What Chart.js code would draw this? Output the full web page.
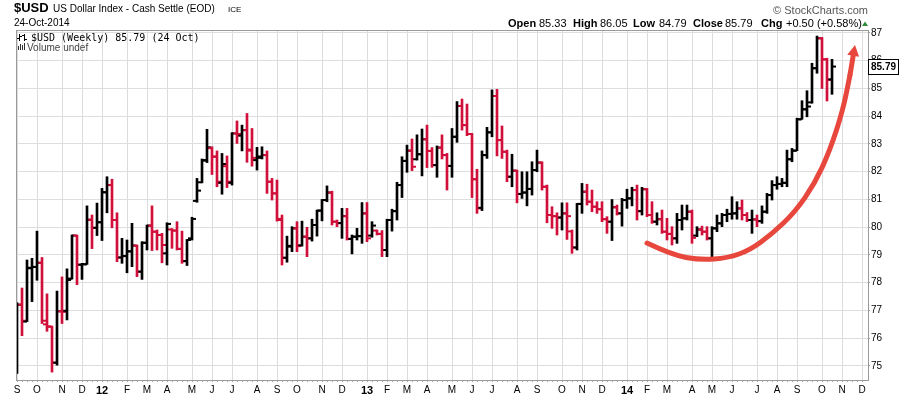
<!DOCTYPE html>
<html>
<head>
<meta charset="utf-8">
<title>$USD weekly</title>
<script src="https://cdn.jsdelivr.net/npm/chart.js@4.4.1/dist/chart.umd.min.js"></script>
<style>
  html, body { margin: 0; padding: 0; background: #fff; }
  #grafico { display: block; }
</style>
</head>
<body>
<canvas id="grafico" width="900" height="396"></canvas>
<script>
/* ── DATOS: barras semanales OHLC del $USD (sep-2011 a oct-2014) ──
   índice = número de semana, 0 = primera semana de septiembre 2011 */
var opens = [
  75.0, 77.21, 76.6, 78.52, 78.57, 78.72, 76.5, 76.41, 75.12, 76.97,
  76.99, 78.15, 79.7, 78.65, 78.66, 80.27, 79.98, 80.18, 81.26, 81.52,
  80.26, 78.91, 78.96, 79.13, 79.34, 78.4, 79.44, 80.06, 79.84, 79.72,
  79.06, 79.92, 79.88, 79.22, 78.78, 79.6, 80.95, 81.62, 82.4, 82.85,
  82.55, 81.6, 82.2, 81.6, 83.38, 83.3, 83.5, 82.8, 82.42, 82.5,
  82.6, 81.64, 81.22, 80.3, 78.9, 79.3, 79.96, 79.35, 79.66, 79.6,
  80.08, 80.6, 80.98, 81.25, 80.2, 80.15, 80.4, 79.58, 79.66, 79.68,
  80.5, 79.7, 79.88, 79.76, 79.18, 80.26, 80.58, 81.52, 82.39, 82.76,
  82.45, 82.63, 83.17, 82.75, 82.24, 82.87, 82.6, 82.21, 83.26, 84.37,
  83.68, 83.36, 81.73, 80.7, 82.6, 83.42, 84.73, 83.14, 82.72, 81.82,
  82.04, 81.2, 81.25, 81.38, 82.06, 82.33, 81.46, 80.44, 80.4, 80.35,
  80.5, 79.85, 79.27, 80.84, 81.28, 80.92, 80.74, 80.65, 80.29, 80.2,
  80.72, 80.5, 80.98, 81.04, 81.34, 80.58, 81.37, 80.44, 80.2, 80.29,
  79.84, 79.76, 79.6, 80.26, 80.32, 80.56, 79.7, 79.92, 79.84, 79.6,
  79.96, 80.14, 80.44, 80.48, 80.5, 80.68, 80.44, 80.26, 80.28, 80.22,
  80.56, 81.16, 81.52, 81.56, 81.6, 82.45, 82.76, 83.89, 84.25, 84.5,
  85.73, 86.81, 86.05, 85.33
];
var highs = [
  77.28, 77.81, 78.82, 78.88, 79.86, 78.91, 77.6, 76.44, 77.7, 78.21,
  78.5, 79.72, 79.72, 78.7, 80.77, 80.44, 80.87, 81.4, 81.82, 81.73,
  80.52, 79.6, 79.54, 80.14, 79.36, 79.48, 80.08, 80.77, 79.9, 79.78,
  80.16, 79.95, 80.2, 79.86, 79.56, 80.36, 81.76, 82.46, 83.53, 82.9,
  82.75, 82.66, 82.57, 83.41, 83.83, 83.68, 84.1, 83.56, 82.88, 82.9,
  82.75, 81.76, 81.7, 80.44, 79.68, 80.02, 80.2, 80.22, 80.0, 80.29,
  80.62, 81.0, 81.49, 81.3, 80.26, 80.68, 80.68, 79.72, 79.96, 80.89,
  80.89, 80.2, 79.9, 79.88, 80.29, 80.65, 81.62, 82.54, 82.96, 83.18,
  83.33, 83.54, 83.68, 82.87, 82.93, 83.33, 82.66, 83.56, 84.53, 84.62,
  84.44, 83.38, 82.09, 82.75, 83.6, 84.95, 84.97, 83.65, 82.78, 82.63,
  82.06, 82.0, 82.0, 82.36, 82.78, 82.36, 81.52, 80.74, 80.52, 80.88,
  80.88, 79.9, 80.86, 81.58, 81.55, 81.34, 80.92, 80.92, 80.38, 81.0,
  80.8, 81.04, 81.37, 81.44, 81.52, 81.44, 81.4, 80.92, 80.52, 80.62,
  80.32, 80.02, 80.5, 80.8, 80.8, 80.62, 80.02, 80.04, 80.02, 80.02,
  80.44, 80.5, 80.65, 81.1, 80.92, 80.98, 80.53, 80.62, 80.44, 80.77,
  81.22, 81.68, 81.82, 81.76, 82.78, 82.84, 83.93, 84.56, 84.92, 85.91,
  86.89, 86.84, 86.09, 86.05
];
var lows = [
  74.73, 76.09, 76.6, 77.32, 78.09, 76.53, 76.25, 74.78, 75.03, 76.53,
  76.66, 78.13, 77.93, 78.12, 78.66, 79.23, 79.7, 79.52, 80.52, 79.98,
  78.76, 78.7, 78.36, 78.58, 78.22, 78.12, 79.18, 79.16, 79.18, 78.72,
  78.64, 79.24, 79.18, 78.7, 78.62, 79.54, 80.9, 81.6, 82.33, 81.9,
  81.46, 81.19, 81.43, 81.52, 83.02, 82.75, 82.34, 82.2, 82.06, 82.46,
  81.22, 80.98, 80.22, 78.64, 78.74, 79.12, 79.12, 79.32, 78.94, 79.5,
  79.68, 80.23, 80.92, 80.08, 80.02, 79.6, 79.54, 79.04, 79.54, 79.42,
  79.48, 79.64, 79.72, 78.94, 78.94, 79.86, 80.26, 81.07, 81.98, 82.04,
  82.42, 81.85, 82.15, 82.16, 81.8, 82.46, 81.34, 81.8, 83.06, 83.5,
  83.3, 81.07, 80.5, 80.6, 82.48, 83.26, 82.57, 82.48, 81.64, 81.46,
  80.88, 81.04, 80.77, 81.16, 82.0, 81.34, 80.16, 79.96, 79.72, 79.9,
  79.56, 79.06, 79.18, 80.5, 80.8, 80.56, 80.5, 80.2, 79.78, 79.52,
  80.44, 80.04, 80.68, 80.77, 80.26, 80.44, 80.38, 80.14, 80.08, 79.78,
  79.54, 79.36, 79.42, 79.9, 80.26, 79.42, 79.66, 79.72, 79.54, 78.94,
  79.84, 80.02, 80.2, 80.29, 80.29, 80.26, 80.2, 79.78, 80.02, 80.14,
  80.5, 80.98, 81.37, 81.46, 81.46, 82.36, 82.76, 83.89, 83.98, 84.47,
  85.55, 85.0, 84.55, 84.79
];
var closes = [
  77.21, 76.63, 78.54, 78.57, 78.72, 76.63, 76.43, 75.12, 76.97, 76.95,
  78.1, 79.7, 78.65, 78.67, 80.27, 79.98, 80.18, 81.26, 81.52, 80.26,
  78.91, 78.96, 79.13, 79.34, 78.4, 79.44, 80.06, 79.84, 79.72, 79.36,
  80.12, 79.88, 79.22, 78.78, 79.54, 80.3, 81.32, 82.42, 82.88, 82.54,
  81.64, 82.28, 81.64, 83.38, 83.36, 83.5, 82.76, 82.5, 82.55, 82.6,
  81.64, 81.22, 80.26, 78.9, 79.33, 79.96, 79.32, 79.66, 79.6, 80.08,
  80.6, 80.98, 81.25, 80.2, 80.15, 80.4, 79.58, 79.66, 79.68, 80.5,
  79.6, 80.06, 79.76, 79.18, 80.26, 80.58, 81.52, 82.39, 82.76, 82.18,
  82.63, 83.17, 82.75, 82.24, 82.87, 82.6, 82.21, 83.26, 84.37, 83.68,
  83.36, 81.73, 80.68, 82.6, 83.42, 84.73, 83.14, 82.72, 81.82, 82.04,
  81.2, 81.25, 81.38, 82.06, 82.33, 81.46, 80.44, 80.4, 80.35, 80.5,
  80.4, 79.27, 80.84, 81.28, 80.92, 80.74, 80.65, 80.29, 80.2, 80.72,
  80.5, 80.98, 81.04, 81.34, 80.58, 81.37, 80.44, 80.2, 80.29, 79.84,
  79.76, 79.6, 80.26, 80.32, 80.56, 79.62, 79.92, 79.84, 79.6, 79.96,
  80.14, 80.44, 80.48, 80.5, 80.68, 80.44, 80.26, 80.28, 80.22, 80.56,
  81.16, 81.52, 81.56, 81.6, 82.45, 82.76, 83.89, 84.25, 84.35, 85.73,
  86.81, 86.05, 85.31, 85.79
];

/* Etiquetas del eje X: semana donde empieza cada mes */
var monthWeeks = [0, 4, 9, 13, 17, 22, 26, 30, 35, 39, 43, 48, 52, 56, 61, 65,
  70, 74, 78, 82, 87, 91, 95, 100, 104, 109, 113, 117,
  122, 126, 130, 135, 139, 143, 148, 152, 156, 161, 165, 169];
var monthLabels = ['S', 'O', 'N', 'D', '12', 'F', 'M', 'A', 'M', 'J', 'J', 'A', 'S', 'O', 'N', 'D',
  '13', 'F', 'M', 'A', 'M', 'J', 'J', 'A', 'S', 'O', 'N', 'D',
  '14', 'F', 'M', 'A', 'M', 'J', 'J', 'A', 'S', 'O', 'N', 'D'];
/* Etiquetas del eje Y (derecha) */
var priceTicks = [75, 76, 77, 78, 79, 80, 81, 82, 83, 84, 85, 86, 87];

/* Flecha roja dibujada a mano (en unidades de semana / precio) */
var arrowWeeks = [126.0, 131.0, 136.6, 142.2, 146.6, 151.0, 155.6, 159.6, 162.6, 165.2, 166.6, 167.6];
var arrowPrices = [79.43, 79.0, 78.82, 78.89, 79.18, 79.76, 80.55, 81.59, 82.78, 84.23, 85.49, 86.57];

var UP = '#000000';
var DOWN = '#d0103a';
var FONT = "'Liberation Sans', Arial, sans-serif";

/* Color de cada barra: negra si cierra por encima del cierre anterior, roja si no */
var barColors = closes.map(function (c, i) {
  return (i === 0 || c >= closes[i - 1]) ? UP : DOWN;
});

var monthIndex = {};
monthWeeks.forEach(function (w, k) { monthIndex[w] = k; });

/* ── PLUGIN: marco, textos de cabecera, caja del último precio y flecha ── */
var decoracion = {
  id: 'decoracion',
  beforeDraw: function (chart) {
    var ctx = chart.ctx;
    ctx.save();
    ctx.fillStyle = '#fff';
    ctx.fillRect(0, 0, chart.width, chart.height);
    ctx.restore();
  },
  afterDatasetsDraw: function (chart) {
    var ctx = chart.ctx, xs = chart.scales.x, ys = chart.scales.y;
    var pts = arrowWeeks.map(function (w, k) {
      return { x: xs.getPixelForValue(w), y: ys.getPixelForValue(arrowPrices[k]) };
    });
    var n = pts.length - 1;
    var body = pts.slice(0, n);
    ctx.save();
    ctx.strokeStyle = '#e8473d';
    ctx.fillStyle = '#e8473d';
    ctx.lineWidth = 5;
    ctx.lineCap = 'round';
    ctx.beginPath();
    ctx.moveTo(body[0].x, body[0].y);
    for (var i = 1; i < body.length - 1; i++) {
      var mx = (body[i].x + body[i + 1].x) / 2, my = (body[i].y + body[i + 1].y) / 2;
      ctx.quadraticCurveTo(body[i].x, body[i].y, mx, my);
    }
    ctx.lineTo(body[body.length - 1].x, body[body.length - 1].y);
    ctx.stroke();
    /* punta de la flecha */
    var tip = pts[n], base = body[body.length - 1];
    var ang = Math.atan2(tip.y - base.y, tip.x - base.x);
    var len = 11, half = 6;
    var bx = tip.x - Math.cos(ang) * len, by = tip.y - Math.sin(ang) * len;
    ctx.beginPath();
    ctx.moveTo(tip.x, tip.y);
    ctx.lineTo(bx + Math.sin(ang) * half, by - Math.cos(ang) * half);
    ctx.lineTo(bx - Math.sin(ang) * half, by + Math.cos(ang) * half);
    ctx.closePath();
    ctx.fill();
    ctx.beginPath();
    ctx.moveTo(base.x, base.y);
    ctx.lineTo(bx, by);
    ctx.stroke();
    ctx.restore();
  },
  afterDraw: function (chart) {
    var ctx = chart.ctx, a = chart.chartArea, ys = chart.scales.y;
    ctx.save();
    /* marco del área del gráfico */
    ctx.strokeStyle = '#9a9a9a';
    ctx.lineWidth = 1;
    ctx.strokeRect(a.left + 0.5, a.top + 0.5, a.right - a.left, a.bottom - a.top);

    /* cabecera */
    ctx.fillStyle = '#000';
    ctx.textBaseline = 'alphabetic';
    ctx.font = 'bold 13px ' + FONT;
    ctx.fillText('$USD', 14, 12);
    ctx.font = '10px ' + FONT;
    ctx.fillText('US Dollar Index - Cash Settle (EOD)', 53, 12);
    ctx.font = '8px ' + FONT;
    ctx.fillText('ICE', 228, 12);
    ctx.font = '10px ' + FONT;
    ctx.fillText('24-Oct-2014', 14, 26);

    ctx.fillStyle = '#555';
    ctx.font = '11px ' + FONT;
    ctx.textAlign = 'right';
    ctx.fillText('\u00a9 StockCharts.com', 868, 14);
    ctx.textAlign = 'left';

    var partes = [['Open', true, 508], ['85.33', false, 539], ['High', true, 573], ['86.05', false, 600],
      ['Low', true, 633], ['84.79', false, 659], ['Close', true, 693], ['85.79', false, 725],
      ['Chg', true, 761], ['+0.50 (+0.58%)', false, 786]];
    ctx.fillStyle = '#000';
    partes.forEach(function (p) {
      ctx.font = (p[1] ? 'bold ' : '') + '11px ' + FONT;
      ctx.fillText(p[0], p[2], 27);
    });
    ctx.fillStyle = '#2e8b3a';
    ctx.beginPath();
    ctx.moveTo(862, 26); ctx.lineTo(868, 26); ctx.lineTo(865, 21.5); ctx.closePath();
    ctx.fill();

    /* leyenda interior */
    ctx.fillStyle = '#000';
    ctx.fillRect(19, 34, 1, 7); ctx.fillRect(17, 38, 2, 1); ctx.fillRect(20, 36, 2, 1);
    ctx.fillRect(24, 34, 1, 7); ctx.fillRect(22, 35, 2, 1); ctx.fillRect(25, 39, 2, 1);
    ctx.font = "10px 'DejaVu Sans Mono', monospace";
    ctx.fillText('$USD (Weekly) 85.79 (24 Oct)', 31, 41);
    ctx.fillStyle = '#333';
    ctx.fillRect(18, 46, 1, 4); ctx.fillRect(20, 44, 1, 6); ctx.fillRect(22, 45, 1, 5); ctx.fillRect(24, 43, 1, 7);
    ctx.fillStyle = '#444';
    ctx.font = '10px ' + FONT;
    ctx.fillText('Volume undef', 27, 51);

    /* caja con el último cierre en el eje derecho */
    var last = closes[closes.length - 1];
    var yl = Math.round(ys.getPixelForValue(last));
    ctx.fillStyle = '#fff';
    ctx.fillRect(a.right + 1, yl - 8, 31, 16);
    ctx.strokeStyle = '#000';
    ctx.strokeRect(a.right + 0.5, yl - 7.5, 30, 15);
    ctx.fillStyle = '#000';
    ctx.font = 'bold 10px ' + FONT;
    ctx.textBaseline = 'middle';
    ctx.fillText(last.toFixed(2), a.right + 3, yl + 0.5);
    ctx.restore();
  }
};

var canvas = document.getElementById('grafico');
new Chart(canvas, {
  type: 'bar',
  data: {
    datasets: [
      {
        type: 'bar',
        data: highs.map(function (h, i) { return { x: i, y: [lows[i], h] }; }),
        backgroundColor: barColors,
        borderWidth: 0,
        barThickness: 2,
        grouped: false
      },
      {
        type: 'scatter', /* marca de apertura (izquierda) */
        data: opens.map(function (o, i) { return { x: i - 0.4, y: o }; }),
        pointStyle: 'line',
        pointRadius: 2,
        pointBorderWidth: 2,
        pointBorderColor: barColors,
        borderColor: barColors,
        showLine: false
      },
      {
        type: 'scatter', /* marca de cierre (derecha) */
        data: closes.map(function (c, i) { return { x: i + 0.4, y: c }; }),
        pointStyle: 'line',
        pointRadius: 2,
        pointBorderWidth: 2,
        pointBorderColor: barColors,
        borderColor: barColors,
        showLine: false
      }
    ]
  },
  options: {
    responsive: false,
    animation: false,
    events: [],
    layout: { padding: { top: 30, left: 16, right: 0, bottom: 0 } },
    plugins: {
      legend: { display: false },
      tooltip: { enabled: false }
    },
    scales: {
      x: {
        type: 'linear',
        min: -0.2,
        max: 170.2,
        offset: false,
        afterBuildTicks: function (s) {
          var t = [];
          for (var w = 0; w <= 169; w++) t.push({ value: w });
          s.ticks = t;
        },
        afterFit: function (s) { s.height = 16; },
        border: { color: '#9a9a9a' },
        grid: {
          offset: false,
          color: function (c) {
            return (c.tick && monthIndex[c.tick.value] !== undefined) ? '#dcdcdc' : 'rgba(0,0,0,0)';
          },
          tickColor: '#aaaaaa',
          tickLength: 2
        },
        ticks: {
          autoSkip: false,
          maxRotation: 0,
          padding: 2,
          color: '#000',
          font: function (c) {
            var k = c.tick ? monthIndex[c.tick.value] : undefined;
            var year = k !== undefined && /\d/.test(monthLabels[k]);
            return { family: FONT, size: year ? 11 : 10, weight: year ? 'bold' : 'normal' };
          },
          callback: function (v) {
            var k = monthIndex[v];
            return k === undefined ? '' : monthLabels[k];
          }
        }
      },
      y: {
        position: 'right',
        min: 74.495,
        max: 87.108,
        afterBuildTicks: function (s) {
          s.ticks = priceTicks.map(function (v) { return { value: v }; });
        },
        afterFit: function (s) { s.width = 32; },
        border: { color: '#9a9a9a' },
        grid: { color: '#dedede', tickColor: '#9a9a9a', tickLength: 2 },
        ticks: {
          padding: 1,
          color: '#000',
          font: { family: FONT, size: 10 }
        }
      }
    }
  },
  plugins: [decoracion]
});
</script>
</body>
</html>
